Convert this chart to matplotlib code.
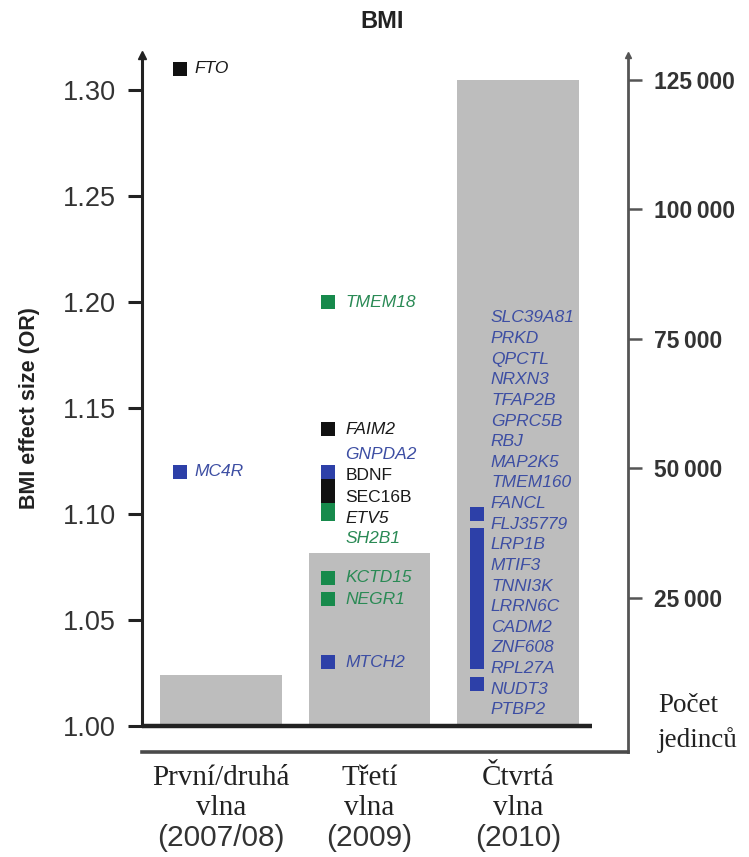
import matplotlib.pyplot as plt
from matplotlib.ticker import FuncFormatter

# === DATA ===
wave_names = ["První/druhá", "Třetí", "Čtvrtá"]
wave_years = ["(2007/08)", "(2009)", "(2010)"]
sample_sizes = [10000, 33600, 125000]

wave1_genes = ["FTO", "MC4R"]
wave1_or = [1.31, 1.12]
wave1_colors = ["black", "blue"]

wave3_genes = ["TMEM18", "FAIM2", "GNPDA2", "SH2B1", "BDNF", "SEC16B", "ETV5",
               "KCTD15", "NEGR1", "MTCH2"]
wave3_or = [1.20, 1.14, 1.12, 1.10, 1.113, 1.108, 1.102, 1.07, 1.06, 1.03]
wave3_colors = ["green", "black", "blue", "green", "black", "black", "green",
                "green", "green", "blue"]
wave3_text_colors = ["green", "black", "blue", "green", "black", "black", "black",
                     "green", "green", "blue"]

wave4_genes = ["SLC39A81", "PRKD", "QPCTL", "NRXN3", "TFAP2B", "GPRC5B", "RBJ",
               "MAP2K5", "TMEM160", "FANCL", "FLJ35779", "LRP1B", "MTIF3",
               "TNNI3K", "LRRN6C", "CADM2", "ZNF608", "RPL27A", "NUDT3", "PTBP2"]
wave4_or = [1.10, 1.10, 1.09, 1.09, 1.085, 1.08, 1.075, 1.07, 1.065, 1.06,
            1.055, 1.05, 1.05, 1.045, 1.04, 1.035, 1.03, 1.03, 1.02, 1.02]

left_ticks = [1.00, 1.05, 1.10, 1.15, 1.20, 1.25, 1.30]
right_ticks = [25000, 50000, 75000, 100000, 125000]

# === STYLE / LAYOUT ===
COL = {"black": "#111111", "blue": "#2d40a8", "green": "#178a4c"}
TXT = {"black": "#1a1a1a", "blue": "#3d4ea3", "green": "#2a8a55"}
BAR = "#bdbdbd"
SANS = ["Liberation Sans", "DejaVu Sans"]
SERIF = ["Liberation Serif", "DejaVu Serif"]
MARK_DX = -0.277
LABEL_DX = 0.095
GENE_FS = 12.5
# label y for third wave (spread so the names do not collide)
wave3_label_y = [1.20, 1.14, 1.128, 1.0885, 1.118, 1.108, 1.098, 1.07, 1.0595, 1.030]
wave4_label_top = 1.1925
wave4_label_step = 0.00973

W, H = 749, 857
fig = plt.figure(figsize=(W / 100, H / 100), dpi=100)
ax = fig.add_axes([142 / W, 1 - 752 / H, (628 - 142) / W, (752 - 55) / H])
ax2 = ax.twinx()
ax.set_zorder(ax2.get_zorder() + 1)
ax.patch.set_visible(False)

ax.set_xlim(-0.532, 2.741)
ax.set_ylim(0.98774, 1.31651)
ax2.set_ylim(-4830, 129830)

# grey bars: number of individuals (right axis)
ax2.bar(range(len(sample_sizes)), sample_sizes, width=0.82, color=BAR, zorder=1)

# thick baseline at OR = 1.00
ax.hlines(1.0, -0.532, 2.497, color="#222222", lw=3.2, zorder=3)

# wave 1
for g, v, c in zip(wave1_genes, wave1_or, wave1_colors):
    ax.plot(0 + MARK_DX, v, "s", ms=9.5, mew=0, color=COL[c], zorder=4)
    ax.text(0 + MARK_DX + LABEL_DX, v, g, color=TXT[c], fontsize=GENE_FS,
            style="italic", family=SANS, va="center", ha="left")

# wave 3
for g, v, c, tc, ly in zip(wave3_genes, wave3_or, wave3_colors,
                           wave3_text_colors, wave3_label_y):
    ax.plot(1 + MARK_DX, v, "s", ms=9.5, mew=0, color=COL[c], zorder=4)
    st = "normal" if g in ("BDNF", "SEC16B") else "italic"
    ax.text(1 + MARK_DX + LABEL_DX + 0.02, ly, g, color=TXT[tc], fontsize=GENE_FS,
            style=st, family=SANS, va="center", ha="left")

# wave 4
for i, (g, v) in enumerate(zip(wave4_genes, wave4_or)):
    ax.plot(2 + MARK_DX, v, "s", ms=9.5, mew=0, color=COL["blue"], zorder=4)
    ax.text(2 + MARK_DX + LABEL_DX, wave4_label_top - i * wave4_label_step, g,
            color=TXT["blue"], fontsize=GENE_FS, style="italic", family=SANS,
            va="center", ha="left")

# left axis
for s in ["top", "right", "bottom"]:
    ax.spines[s].set_visible(False)
ax.spines["left"].set_bounds(1.0, 1.31651)
ax.spines["left"].set_linewidth(2.2)
ax.spines["left"].set_color("#222222")
ax.plot(0, 1, "^", ms=6, color="#222222", transform=ax.transAxes, clip_on=False)
ax.set_yticks(left_ticks)
ax.set_yticklabels([f"{t:.2f}" for t in left_ticks], family=SANS, fontsize=19.5,
                   color="#333333")
ax.tick_params(axis="y", direction="out", length=10, width=2.2, color="#222222", pad=9)
ax.set_xticks([])
ax.set_ylabel("BMI effect size (OR)", family=SANS, fontsize=15.5,
              fontweight="bold", color="#222222")
ax.yaxis.set_label_coords(-0.21, 0.4935)

# right axis
for s in ["top", "left"]:
    ax2.spines[s].set_visible(False)
ax2.spines["right"].set_linewidth(2.0)
ax2.spines["right"].set_color("#555555")
ax2.spines["bottom"].set_linewidth(2.6)
ax2.spines["bottom"].set_color("#4a4a4a")
ax2.plot(1, 1, "^", ms=5, color="#555555", transform=ax2.transAxes, clip_on=False)
ax2.set_yticks(right_ticks)
ax2.yaxis.set_major_formatter(FuncFormatter(lambda v, p: f"{int(v):,}".replace(",", "\u2009")))
for lab in ax2.get_yticklabels():
    lab.set_family(SANS)
    lab.set_fontsize(16.5)
    lab.set_fontweight("bold")
    lab.set_color("#333333")
ax2.tick_params(axis="y", direction="out", length=10, width=1.8, color="#555555", pad=9)
ax2.set_xticks([])

ax2.text(1.062, 0.0674, "Počet", transform=ax2.transAxes, family=SERIF,
         fontsize=19.5, va="center", ha="left", color="#222222")
ax2.text(1.062, 0.0172, "jedinců", transform=ax2.transAxes, family=SERIF,
         fontsize=19.5, va="center", ha="left", color="#222222")

# category labels under the chart
tr = ax.get_xaxis_transform()
for i, (n, y) in enumerate(zip(wave_names, wave_years)):
    ax.text(i, -0.0373, n, transform=tr, family=SERIF, fontsize=21,
            ha="center", va="center", color="#222222")
    ax.text(i, -0.0803, "vlna", transform=tr, family=SERIF, fontsize=21,
            ha="center", va="center", color="#222222")
    ax.text(i, -0.1234, y, transform=tr, family=SANS, fontsize=21.5,
            ha="center", va="center", color="#333333")

fig.text(382 / W, 1 - 22 / H, "BMI", family=SANS, fontsize=17,
         fontweight="bold", ha="center", va="center", color="#222222")

fig.savefig("out.png", dpi=100)
